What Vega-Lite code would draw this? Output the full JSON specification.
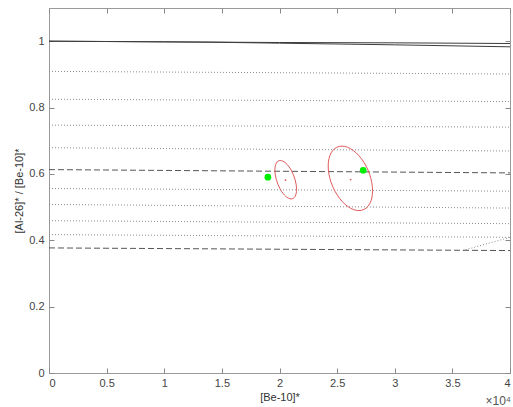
{
  "$schema": "https://vega.github.io/schema/vega-lite/v6.json",
  "width": 461,
  "height": 365,
  "autosize": {"type": "none"},
  "padding": {"left": 49, "top": 8, "right": 3, "bottom": 34},
  "background": "white",
  "config": {
    "view": {"stroke": "#9a9a9a", "strokeWidth": 1},
    "font": "Liberation Sans",
    "axis": {
      "grid": false,
      "domain": false,
      "tickSize": -5,
      "tickColor": "#8a8a8a",
      "labelFont": "Liberation Sans",
      "labelFontSize": 11,
      "labelColor": "#444444",
      "titleFont": "Liberation Sans",
      "titleFontSize": 11,
      "titleFontWeight": "normal",
      "titleColor": "#333333"
    }
  },
  "datasets": {
    "envelope": [
      {"series": "A", "be10": 0, "ratio": 1.0},
      {"series": "A", "be10": 10000, "ratio": 0.998},
      {"series": "A", "be10": 20000, "ratio": 0.996},
      {"series": "A", "be10": 30000, "ratio": 0.995},
      {"series": "A", "be10": 40000, "ratio": 0.993},
      {"series": "B", "be10": 0, "ratio": 1.0},
      {"series": "B", "be10": 10000, "ratio": 0.998},
      {"series": "B", "be10": 14000, "ratio": 0.997},
      {"series": "B", "be10": 20000, "ratio": 0.994},
      {"series": "B", "be10": 30000, "ratio": 0.989},
      {"series": "B", "be10": 40000, "ratio": 0.983}
    ],
    "burial": [
      {"series": "b1", "be10": 0, "ratio": 0.909}, {"series": "b1", "be10": 40000, "ratio": 0.901},
      {"series": "b2", "be10": 0, "ratio": 0.825}, {"series": "b2", "be10": 40000, "ratio": 0.818},
      {"series": "b3", "be10": 0, "ratio": 0.747}, {"series": "b3", "be10": 40000, "ratio": 0.741},
      {"series": "b4", "be10": 0, "ratio": 0.679}, {"series": "b4", "be10": 40000, "ratio": 0.669},
      {"series": "b5", "be10": 0, "ratio": 0.556}, {"series": "b5", "be10": 40000, "ratio": 0.548},
      {"series": "b6", "be10": 0, "ratio": 0.508}, {"series": "b6", "be10": 40000, "ratio": 0.497},
      {"series": "b7", "be10": 0, "ratio": 0.459}, {"series": "b7", "be10": 40000, "ratio": 0.450},
      {"series": "b8", "be10": 0, "ratio": 0.417}, {"series": "b8", "be10": 40000, "ratio": 0.409},
      {"series": "b9", "be10": 35900, "ratio": 0.369}, {"series": "b9", "be10": 40000, "ratio": 0.409}
    ],
    "bounds": [
      {"series": "upper", "be10": 0, "ratio": 0.613}, {"series": "upper", "be10": 40000, "ratio": 0.603},
      {"series": "lower", "be10": 0, "ratio": 0.377}, {"series": "lower", "be10": 40000, "ratio": 0.369}
    ],
    "ellipses": [
      {"sample": "s1", "k": 0, "be10": 21481, "ratio": 0.5536},
      {"sample": "s1", "k": 1, "be10": 21449, "ratio": 0.5676},
      {"sample": "s1", "k": 2, "be10": 21355, "ratio": 0.5826},
      {"sample": "s1", "k": 3, "be10": 21205, "ratio": 0.5976},
      {"sample": "s1", "k": 4, "be10": 21011, "ratio": 0.6116},
      {"sample": "s1", "k": 5, "be10": 20784, "ratio": 0.6235},
      {"sample": "s1", "k": 6, "be10": 20540, "ratio": 0.6327},
      {"sample": "s1", "k": 7, "be10": 20297, "ratio": 0.6385},
      {"sample": "s1", "k": 8, "be10": 20070, "ratio": 0.6405},
      {"sample": "s1", "k": 9, "be10": 19875, "ratio": 0.6385},
      {"sample": "s1", "k": 10, "be10": 19725, "ratio": 0.6327},
      {"sample": "s1", "k": 11, "be10": 19631, "ratio": 0.6235},
      {"sample": "s1", "k": 12, "be10": 19599, "ratio": 0.6116},
      {"sample": "s1", "k": 13, "be10": 19631, "ratio": 0.5976},
      {"sample": "s1", "k": 14, "be10": 19725, "ratio": 0.5826},
      {"sample": "s1", "k": 15, "be10": 19875, "ratio": 0.5676},
      {"sample": "s1", "k": 16, "be10": 20070, "ratio": 0.5536},
      {"sample": "s1", "k": 17, "be10": 20297, "ratio": 0.5417},
      {"sample": "s1", "k": 18, "be10": 20540, "ratio": 0.5325},
      {"sample": "s1", "k": 19, "be10": 20784, "ratio": 0.5267},
      {"sample": "s1", "k": 20, "be10": 21011, "ratio": 0.5247},
      {"sample": "s1", "k": 21, "be10": 21205, "ratio": 0.5267},
      {"sample": "s1", "k": 22, "be10": 21355, "ratio": 0.5325},
      {"sample": "s1", "k": 23, "be10": 21449, "ratio": 0.5417},
      {"sample": "s2", "k": 0, "be10": 28075, "ratio": 0.5494},
      {"sample": "s2", "k": 1, "be10": 28009, "ratio": 0.5739},
      {"sample": "s2", "k": 2, "be10": 27817, "ratio": 0.5993},
      {"sample": "s2", "k": 3, "be10": 27511, "ratio": 0.6238},
      {"sample": "s2", "k": 4, "be10": 27113, "ratio": 0.6457},
      {"sample": "s2", "k": 5, "be10": 26648, "ratio": 0.6636},
      {"sample": "s2", "k": 6, "be10": 26150, "ratio": 0.6763},
      {"sample": "s2", "k": 7, "be10": 25652, "ratio": 0.6829},
      {"sample": "s2", "k": 8, "be10": 25188, "ratio": 0.6829},
      {"sample": "s2", "k": 9, "be10": 24789, "ratio": 0.6763},
      {"sample": "s2", "k": 10, "be10": 24483, "ratio": 0.6636},
      {"sample": "s2", "k": 11, "be10": 24291, "ratio": 0.6457},
      {"sample": "s2", "k": 12, "be10": 24225, "ratio": 0.6238},
      {"sample": "s2", "k": 13, "be10": 24291, "ratio": 0.5993},
      {"sample": "s2", "k": 14, "be10": 24483, "ratio": 0.5739},
      {"sample": "s2", "k": 15, "be10": 24789, "ratio": 0.5494},
      {"sample": "s2", "k": 16, "be10": 25188, "ratio": 0.5275},
      {"sample": "s2", "k": 17, "be10": 25652, "ratio": 0.5096},
      {"sample": "s2", "k": 18, "be10": 26150, "ratio": 0.4969},
      {"sample": "s2", "k": 19, "be10": 26648, "ratio": 0.4903},
      {"sample": "s2", "k": 20, "be10": 27113, "ratio": 0.4903},
      {"sample": "s2", "k": 21, "be10": 27511, "ratio": 0.4969},
      {"sample": "s2", "k": 22, "be10": 27817, "ratio": 0.5096},
      {"sample": "s2", "k": 23, "be10": 28009, "ratio": 0.5275}
    ],
    "centres": [
      {"sample": "s1", "be10": 20520, "ratio": 0.581},
      {"sample": "s2", "be10": 26170, "ratio": 0.583}
    ],
    "samples": [
      {"sample": "g1", "be10": 18990, "ratio": 0.590},
      {"sample": "g2", "be10": 27260, "ratio": 0.611}
    ],
    "units": [
      {"be10": 40000, "ratio": 0, "text": "×10⁴"}
    ]
  },
  "resolve": {"axis": {"x": "independent", "y": "independent"}},
  "layer": [
    {
      "data": {"name": "envelope"},
      "mark": {"type": "line", "color": "#3c3c3c", "strokeWidth": 1},
      "encoding": {
        "x": {
          "field": "be10", "type": "quantitative",
          "scale": {"domain": [0, 40000], "nice": false, "zero": false},
          "axis": {
            "orient": "bottom",
            "title": "[Be-10]*",
            "values": [0, 5000, 10000, 15000, 20000, 25000, 30000, 35000, 40000],
            "labelExpr": "format(datum.value / 10000, '~g')",
            "labelPadding": 9,
            "titlePadding": 3
          }
        },
        "y": {
          "field": "ratio", "type": "quantitative",
          "scale": {"domain": [0, 1.1], "nice": false, "zero": false},
          "axis": {
            "orient": "left",
            "title": "[Al-26]* / [Be-10]*",
            "values": [0, 0.2, 0.4, 0.6, 0.8, 1],
            "format": "~g",
            "labelPadding": 10,
            "titlePadding": 4
          }
        },
        "detail": {"field": "series"}
      }
    },
    {
      "data": {"name": "burial"},
      "mark": {"type": "line", "color": "#8c8c8c", "strokeWidth": 1, "strokeDash": [1, 2]},
      "encoding": {
        "x": {
          "field": "be10", "type": "quantitative",
          "axis": {
            "orient": "top",
            "title": null,
            "labels": false,
            "values": [0, 5000, 10000, 15000, 20000, 25000, 30000, 35000, 40000]
          }
        },
        "y": {
          "field": "ratio", "type": "quantitative",
          "axis": {
            "orient": "right",
            "title": null,
            "labels": false,
            "values": [0, 0.2, 0.4, 0.6, 0.8, 1]
          }
        },
        "detail": {"field": "series"}
      }
    },
    {
      "data": {"name": "bounds"},
      "mark": {"type": "line", "color": "#555555", "strokeWidth": 1, "strokeDash": [6, 3]},
      "encoding": {
        "x": {"field": "be10", "type": "quantitative", "axis": null},
        "y": {"field": "ratio", "type": "quantitative", "axis": null},
        "detail": {"field": "series"}
      }
    },
    {
      "data": {"name": "ellipses"},
      "mark": {"type": "line", "color": "#e05a5a", "strokeWidth": 1, "interpolate": "cardinal-closed"},
      "encoding": {
        "x": {"field": "be10", "type": "quantitative", "axis": null},
        "y": {"field": "ratio", "type": "quantitative", "axis": null},
        "detail": {"field": "sample"},
        "order": {"field": "k", "type": "quantitative"}
      }
    },
    {
      "data": {"name": "centres"},
      "mark": {"type": "point", "filled": true, "color": "#e05a5a", "size": 3, "opacity": 1},
      "encoding": {
        "x": {"field": "be10", "type": "quantitative", "axis": null},
        "y": {"field": "ratio", "type": "quantitative", "axis": null}
      }
    },
    {
      "data": {"name": "samples"},
      "mark": {"type": "circle", "color": "#00ee00", "size": 45, "opacity": 1},
      "encoding": {
        "x": {"field": "be10", "type": "quantitative", "axis": null},
        "y": {"field": "ratio", "type": "quantitative", "axis": null}
      }
    },
    {
      "data": {"name": "units"},
      "mark": {"type": "text", "align": "right", "baseline": "middle", "dy": 28, "dx": 1, "fontSize": 12, "color": "#555555", "font": "Liberation Sans"},
      "encoding": {
        "x": {"field": "be10", "type": "quantitative", "axis": null},
        "y": {"field": "ratio", "type": "quantitative", "axis": null},
        "text": {"field": "text"}
      }
    }
  ]
}
